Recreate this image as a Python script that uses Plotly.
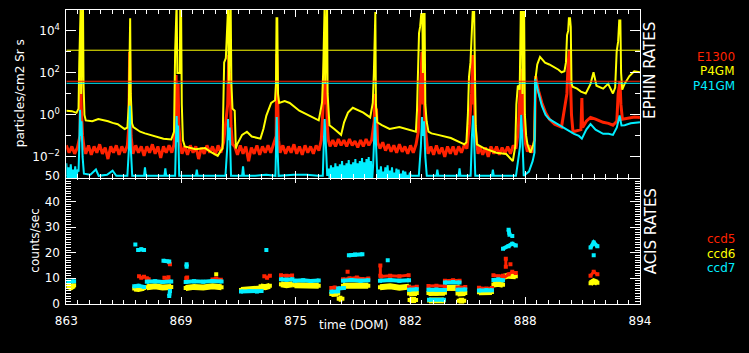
import numpy as np
import plotly.graph_objects as go

# ---------------- data: EPHIN rates (top panel), log10(particles/cm2 Sr s) -------------
p4gm_pts = [
    (863.0, 0.2), (863.3, 0.18), (863.55, 0.1), (863.66, 0.3), (863.70, 2.5), (863.74, 5.3),
    (863.78, 5.3), (863.80, 1.0), (863.86, 5.3), (863.90, 5.3), (863.93, 1.5), (863.98, 0.0),
    (864.05, -0.26), (864.4, -0.3), (864.73, -0.2), (865.0, -0.25), (865.26, -0.3), (865.5, -0.38),
    (865.78, -0.44), (866.15, -0.67), (866.30, -0.6), (866.38, 0.5), (866.41, 4.6), (866.45, 4.6),
    (866.48, 1.0), (866.55, -0.4), (866.62, -0.58), (866.99, -0.8), (867.25, -0.88),
    (867.51, -0.95), (867.9, -1.05), (868.25, -1.13), (868.67, -1.17), (868.82, -0.8), (868.88, 3.0),
    (868.92, 5.3), (868.96, 5.3), (869.0, 2.0), (869.13, 2.0), (869.16, 5.3), (869.2, 5.3),
    (869.24, 0.5), (869.3, -1.2), (869.4, -1.5), (869.98, -1.63), (870.3, -1.6), (870.5, -1.58),
    (870.87, -1.8), (871.18, -1.95), (871.35, -1.7), (871.44, -1.6), (871.47, -0.2), (871.53, 2.5),
    (871.62, 2.7), (871.70, 5.3), (871.75, 5.3), (871.78, 1.5), (871.84, 5.3), (871.88, 5.3),
    (871.92, 1.5), (871.98, 0.3), (872.10, 0.2), (872.16, -1.6), (872.23, -1.4), (872.50, -0.95),
    (872.76, -0.8), (873.02, -1.03), (873.49, -1.13), (873.65, -0.67), (873.81, -0.03),
    (874.07, 0.57), (874.28, 0.7), (874.33, 1.5), (874.36, 4.6), (874.40, 4.6), (874.44, 1.0),
    (874.50, 0.57), (874.80, 0.66), (875.07, 0.57), (875.59, 0.2), (876.12, -0.03), (876.64, -0.26),
    (876.76, 0.3), (876.82, 0.6), (876.88, 2.0), (876.92, 5.3), (876.96, 5.3), (876.99, 1.5),
    (877.05, 5.3), (877.09, 5.3), (877.12, 1.0), (877.18, 0.0), (877.22, -0.49), (877.48, -0.67),
    (877.85, -0.95), (878.01, -0.35), (878.22, 0.11), (878.48, 0.34), (878.74, 0.25), (879.05, 0.11),
    (879.42, -0.12), (879.56, 0.57), (879.62, 2.0), (879.66, 4.9), (879.70, 4.9), (879.73, 0.5),
    (879.80, -0.35), (880.05, -0.49), (880.47, -0.67), (881.0, -0.58), (881.52, -0.72),
    (881.89, -0.8), (881.95, 0.2), (882.00, 2.5), (882.06, 3.9), (882.12, 4.2), (882.18, 4.8),
    (882.24, 4.8), (882.27, 2.0), (882.32, 4.8), (882.36, 4.8), (882.40, 0.5), (882.47, -0.3),
    (882.57, -0.8), (882.73, -0.88), (883.09, -0.95), (883.78, -1.1), (884.51, -1.4),
    (884.62, -1.3), (884.70, 0.0), (884.76, 1.8), (884.84, 2.5), (884.90, 3.5), (884.96, 4.9),
    (885.04, 4.9), (885.08, 2.5), (885.12, -0.5), (885.19, -1.4), (885.56, -1.58), (886.24, -1.8),
    (886.77, -1.86), (887.13, -2.2), (887.26, -1.5), (887.32, 0.5), (887.40, 1.4), (887.50, 1.2),
    (887.56, 4.9), (887.62, 4.9), (887.65, 1.0), (887.69, 4.9), (887.74, 4.9), (887.78, 0.0),
    (887.85, -1.0), (887.92, -1.4), (888.08, -1.8), (888.24, -1.4), (888.30, -1.2), (888.34, 1.62),
    (888.45, 2.4), (888.60, 2.76), (888.87, 2.49), (889.1, 2.4), (889.39, 2.26), (889.6, 2.15),
    (889.76, 2.03), (889.92, 2.08), (890.00, 2.5), (890.06, 3.8), (890.12, 4.0), (890.16, 4.6),
    (890.22, 4.6), (890.26, 4.2), (890.30, 1.5), (890.36, 1.34), (890.6, 1.25), (890.81, 1.11),
    (891.07, 1.02), (891.33, 1.48), (891.49, 2.03), (891.65, 1.39), (892.01, 1.25), (892.28, 1.48),
    (892.54, 1.02), (892.66, 1.3), (892.74, 3.0), (892.82, 3.5), (892.88, 4.5), (892.94, 4.5),
    (892.98, 2.0), (893.04, 1.2), (893.17, 1.48), (893.43, 1.85), (893.69, 2.08), (894.0, 2.03),
]

e1300_pts = [
    (863.0, -1.45), (863.15, -1.8), (863.3, -1.5), (863.45, -1.85), (863.6, -1.55), (863.68, -1.2),
    (863.74, -1.0), (863.78, 2.0), (863.81, 0.3), (863.88, -1.0),
    (863.95, -1.5), (864.05, -1.85), (864.2, -1.45), (864.35, -1.9), (864.5, -1.5), (864.65, -1.8),
    (864.8, -1.4), (864.95, -1.85), (865.1, -1.55), (865.25, -2.1), (865.4, -1.5), (865.55, -1.8),
    (865.7, -1.45), (865.85, -1.9), (866.0, -1.5), (866.15, -1.8), (866.3, -1.45),
    (866.38, -0.5), (866.42, 3.0), (866.45, 1.0), (866.5, -1.0),
    (866.6, -1.85), (866.75, -1.45), (866.9, -1.8), (867.05, -1.5), (867.2, -1.95), (867.35, -1.5),
    (867.5, -1.8), (867.65, -1.4), (867.8, -1.85), (867.95, -1.5), (868.1, -2.05), (868.25, -1.5),
    (868.4, -1.8), (868.55, -1.45), (868.7, -1.8), (868.82, -1.4),
    (868.9, 0.0), (868.93, 1.9), (868.96, 0.3), (869.0, -0.3), (869.04, 1.5), (869.08, -0.5),
    (869.15, -1.3),
    (869.25, -1.85), (869.4, -1.5), (869.55, -1.9), (869.7, -1.45), (869.85, -1.8), (870.0, -1.5),
    (870.15, -2.1), (870.3, -1.55), (870.45, -1.85), (870.6, -1.45), (870.75, -1.8), (870.9, -1.5),
    (871.05, -1.9), (871.2, -1.45), (871.35, -1.8), (871.5, -1.3),
    (871.72, 0.5), (871.78, 2.85), (871.82, 0.8), (871.86, 2.0), (871.9, -0.5), (871.98, -1.4),
    (872.1, -1.5), (872.25, -1.9), (872.4, -1.45), (872.55, -1.85), (872.7, -1.5),
    (872.85, -2.2), (873.0, -1.55), (873.15, -1.85), (873.3, -1.45), (873.45, -1.9), (873.6, -1.5),
    (873.75, -1.8), (873.9, -1.45), (874.05, -1.8), (874.2, -1.4), (874.3, -1.2),
    (874.34, -1.0), (874.37, 2.9), (874.41, 0.5), (874.47, -1.2),
    (874.55, -1.8), (874.7, -1.45), (874.85, -1.85), (875.0, -1.5), (875.15, -1.8), (875.3, -1.4),
    (875.45, -1.85), (875.6, -1.5), (875.75, -1.9), (875.9, -1.45), (876.05, -1.8), (876.2, -1.5),
    (876.35, -1.85), (876.5, -1.45), (876.65, -1.7), (876.78, -1.2),
    (876.9, 0.8), (876.95, 2.5), (876.99, 0.5), (877.06, 1.5), (877.1, -0.5), (877.16, -1.2),
    (877.25, -1.5), (877.4, -1.2), (877.55, -1.5), (877.7, -1.15), (877.85, -1.45), (878.0, -1.2),
    (878.15, -1.5), (878.3, -1.15), (878.45, -1.45), (878.6, -1.25), (878.75, -1.55), (878.9, -1.2),
    (879.05, -1.5), (879.2, -1.15), (879.35, -1.45), (879.5, -1.2),
    (879.64, -0.3), (879.68, 1.0), (879.72, -0.5), (879.76, 0.3), (879.82, -1.3),
    (879.95, -1.6), (880.1, -1.3), (880.25, -1.7), (880.4, -1.4), (880.55, -1.75), (880.7, -1.45),
    (880.85, -1.8), (881.0, -1.4), (881.15, -1.75), (881.3, -1.5), (881.45, -1.85), (881.6, -1.45),
    (881.75, -1.8), (881.9, -1.4), (882.02, -0.8),
    (882.1, 0.5), (882.16, 1.5), (882.22, 3.0), (882.27, 0.5), (882.33, 2.0), (882.38, -0.5),
    (882.46, -1.3),
    (882.55, -1.85), (882.7, -1.5), (882.85, -1.9), (883.0, -1.45), (883.15, -1.85), (883.3, -1.55),
    (883.45, -2.0), (883.6, -1.5), (883.75, -1.85), (883.9, -1.5), (884.05, -1.9), (884.2, -1.5),
    (884.35, -1.8), (884.5, -1.45), (884.65, -1.6), (884.78, -0.5),
    (884.9, 1.0), (884.96, 2.85), (885.0, 0.5), (885.04, 1.8), (885.09, -0.5), (885.16, -1.2),
    (885.25, -1.85), (885.35, -1.5), (885.5, -1.9), (885.65, -1.55), (885.8, -2.0), (885.95, -1.5),
    (886.1, -1.85), (886.25, -1.5), (886.4, -1.9), (886.55, -1.55), (886.7, -1.85), (886.85, -1.5),
    (887.0, -1.85), (887.15, -1.45), (887.3, -1.6), (887.42, -0.8),
    (887.5, 0.5), (887.58, 2.2), (887.62, 0.0), (887.68, 1.5), (887.74, -0.5), (887.82, -1.4),
    (887.92, -1.75), (888.05, -1.45), (888.18, -1.8), (888.3, -1.2),
    (888.36, 1.85), (888.5, 1.2), (888.7, 0.57), (888.9, 0.1), (889.1, -0.2), (889.39, -0.44),
    (889.76, -0.58), (889.9, 0.2), (889.98, 0.7), (890.05, 1.0), (890.12, 2.5), (890.2, 3.1),
    (890.25, 1.5), (890.3, 0.0), (890.38, -0.8), (890.6, -0.75), (890.81, -0.7), (890.86, 0.8),
    (890.90, -0.6), (891.1, -0.3), (891.33, -0.12), (891.6, -0.2), (892.01, -0.35), (892.3, -0.4),
    (892.54, -0.49), (892.75, -0.3), (892.82, 1.0), (892.92, 1.6), (892.97, 0.5), (893.05, -0.2),
    (893.4, -0.15), (893.7, -0.1), (894.0, -0.12),
]

p41gm_pts = [
    (863.0, -2.3), (863.06, -3.2), (863.12, -2.5), (863.18, -3.2), (863.24, -2.35), (863.30, -3.2),
    (863.36, -2.6), (863.42, -3.2), (863.48, -2.45), (863.54, -3.2), (863.60, -2.6), (863.66, -2.7),
    (863.70, -1.5), (863.74, 0.25), (863.78, -1.0), (863.82, -0.3), (863.88, -2.0), (863.95, -2.8),
    (864.3, -2.85), (864.6, -2.6), (864.75, -2.9), (865.2, -2.85), (865.5, -2.65), (865.7, -2.9),
    (866.3, -2.9), (866.39, -1.5), (866.43, 0.43), (866.48, -1.5), (866.56, -2.9), (867.2, -2.9),
    (867.25, -2.5), (867.3, -2.9), (868.3, -2.9), (868.35, -2.55), (868.4, -2.9), (868.88, -2.9),
    (868.93, -1.0), (868.96, -0.05), (869.0, -1.3), (869.04, -0.5), (869.10, -2.9), (870.0, -2.9),
    (870.05, -2.6), (870.1, -2.9), (871.0, -2.9), (871.6, -2.9), (871.7, -1.5), (871.74, -0.2),
    (871.78, -1.2), (871.83, -0.6), (871.9, -2.9), (872.5, -2.9), (872.55, -2.45), (872.6, -2.9),
    (873.2, -2.9), (873.8, -2.85), (874.3, -2.9), (874.33, -1.0), (874.37, -0.1), (874.41, -1.5),
    (874.47, -2.9), (875.3, -2.85), (876.0, -2.85), (876.6, -2.9), (876.86, -2.9), (876.92, -1.2),
    (876.96, -0.2), (877.03, -1.5), (877.1, -2.9),
    (877.18, -2.55), (877.24, -3.2), (877.30, -2.4), (877.36, -3.2), (877.42, -2.5), (877.48, -3.2),
    (877.54, -2.3), (877.60, -3.2), (877.66, -2.45), (877.72, -3.2), (877.78, -2.35), (877.84, -3.2),
    (877.90, -2.2), (877.96, -3.2), (878.02, -2.4), (878.08, -3.2), (878.14, -2.3), (878.20, -3.2),
    (878.26, -2.15), (878.32, -3.2), (878.38, -2.35), (878.44, -3.2), (878.50, -2.25), (878.56, -3.2),
    (878.62, -2.1), (878.68, -3.2), (878.74, -2.3), (878.80, -3.2), (878.86, -2.2), (878.92, -3.2),
    (878.98, -2.05), (879.04, -3.2), (879.10, -2.25), (879.16, -3.2), (879.22, -2.1), (879.28, -3.2),
    (879.34, -2.0), (879.40, -3.2), (879.46, -2.2), (879.52, -3.2), (879.58, -2.4),
    (879.64, -1.0), (879.68, -0.1), (879.74, -1.5), (879.82, -3.2),
    (879.88, -2.6), (879.94, -3.2), (880.00, -2.45), (880.06, -3.2), (880.12, -2.7), (880.18, -3.2),
    (880.24, -2.5), (880.30, -3.2), (880.36, -2.4), (880.42, -3.2), (880.48, -2.65), (880.54, -3.2),
    (880.60, -2.5), (880.66, -3.2), (880.72, -2.75), (880.78, -3.2), (880.84, -2.55), (880.90, -3.2),
    (880.96, -2.6), (881.02, -3.2), (881.08, -2.8), (881.14, -3.2), (881.20, -2.65), (881.26, -3.2),
    (881.32, -2.7), (881.38, -3.2), (881.44, -2.85), (881.50, -3.2), (881.56, -2.75), (881.62, -2.9),
    (882.05, -2.9), (882.16, -1.5), (882.22, -0.1), (882.27, -1.0),
    (882.33, -0.3), (882.40, -2.0), (882.48, -2.9), (883.0, -2.9), (883.05, -2.6), (883.1, -2.9),
    (884.2, -2.9), (884.25, -2.55), (884.3, -2.9), (884.85, -2.9), (884.92, -1.0), (884.98, -0.03),
    (885.04, -1.2), (885.1, -2.9), (886.0, -2.9), (886.05, -2.6), (886.1, -2.9), (887.3, -2.9),
    (887.52, -1.5), (887.58, 0.0), (887.64, -1.0), (887.72, -2.9), (888.0, -2.7), (888.2, -2.2),
    (888.30, -1.8), (888.34, 1.7), (888.5, 1.1), (888.7, 0.43), (888.9, 0.0), (889.1, -0.2),
    (889.39, -0.35), (889.76, -0.55), (890.02, -0.67), (890.2, -0.8), (890.44, -0.9), (890.7, -1.0),
    (890.86, -1.13), (891.1, -0.7), (891.33, -0.44), (891.6, -0.7), (892.01, -0.9), (892.3, -0.9),
    (892.54, -0.95), (892.75, -0.6), (892.9, -0.03), (893.0, -0.5), (893.17, -0.49), (893.5, -0.4),
    (894.0, -0.35),
]

# alert limits (horizontal reference lines)
P4GM_LIMIT = 1200.0
E1300_LIMIT = 40.0
P41GM_LIMIT = 32.0

# ---------------- data: ACIS rates (bottom panel), counts/sec -------------
ccd5_segments = [
    [(866.93, 10.8), (867.05, 10.2), (867.2, 10.6)],
    [(867.35, 10.0), (867.45, 9.6)],
    [(868.3, 10.2), (868.45, 9.8), (868.52, 10.4)],
    [(868.56, 16.2), (868.6, 15.5)],
    [(869.48, 10.0), (869.53, 10.3)],
    [(870.9, 9.5), (871.1, 9.9), (871.35, 9.4)],
    [(873.7, 10.8), (873.85, 10.2), (874.0, 11.0)],
    [(874.6, 11.2), (874.9, 11.0), (875.2, 11.1)],
    [(877.32, 6.2), (877.5, 6.4), (877.69, 6.0)],
    [(877.95, 9.6), (878.3, 10.0), (878.7, 10.3), (879.0, 9.7), (879.32, 9.9)],
    [(878.2, 12.5)],
    [(879.97, 11.0), (879.97, 15.0)],
    [(880.0, 10.7), (880.5, 11.0), (881.0, 10.8), (881.5, 11.2)],
    [(881.52, 6.5), (881.94, 6.7)],
    [(882.57, 6.9), (883.0, 7.0), (883.46, 6.8)],
    [(883.46, 9.0), (883.9, 9.2), (884.25, 9.0)],
    [(884.14, 6.4), (884.56, 6.6)],
    [(885.3, 6.3), (885.7, 6.0), (886.0, 6.2)],
    [(886.08, 11.2), (886.35, 10.8), (886.6, 11.0)],
    [(886.6, 10.0), (886.9, 11.5), (887.1, 12.5), (887.29, 12.0)],
    [(886.75, 17.6), (886.75, 14.5)],
    [(887.0, 15.5)],
    [(891.33, 11.0), (891.5, 12.5), (891.7, 11.5)],
]

ccd6_segments = [
    [(863.05, 7.0), (863.25, 6.5), (863.42, 7.2)],
    [(866.67, 6.0), (866.9, 5.8), (867.2, 6.2)],
    [(867.35, 6.5), (867.8, 6.8), (868.2, 6.4), (868.67, 6.6)],
    [(869.45, 6.2), (869.9, 6.6), (870.4, 6.4), (870.9, 6.8), (871.39, 6.5)],
    [(871.1, 11.5)],
    [(872.44, 5.4), (872.9, 5.6), (873.3, 5.5), (873.55, 6.0)],
    [(873.5, 6.8), (873.75, 6.5), (874.0, 7.0)],
    [(874.6, 7.6), (874.9, 7.3), (875.22, 7.6)],
    [(875.33, 7.2), (875.8, 7.0), (876.2, 7.3), (876.64, 7.0)],
    [(877.32, 3.8), (877.69, 4.0)],
    [(877.72, 2.0), (877.92, 2.0)],
    [(877.95, 7.0), (878.4, 7.3), (878.9, 7.1), (879.32, 7.0)],
    [(879.95, 6.5), (880.5, 6.8), (881.0, 6.3), (881.52, 6.7)],
    [(881.52, 4.0), (881.94, 4.2)],
    [(881.55, 1.5), (881.9, 1.5)],
    [(882.57, 4.2), (883.0, 4.0), (883.46, 4.3)],
    [(882.6, 1.3), (883.4, 1.3)],
    [(883.46, 6.2), (883.9, 6.0), (884.25, 6.3)],
    [(884.14, 4.0), (884.56, 4.2)],
    [(884.2, 1.2), (884.5, 1.2)],
    [(885.3, 4.5), (885.7, 4.8), (886.0, 4.6)],
    [(886.08, 7.5), (886.35, 7.8), (886.6, 7.4)],
    [(886.6, 10.5), (886.9, 11.0), (887.29, 10.8)],
    [(891.33, 8.0), (891.5, 8.8), (891.7, 8.2)],
]

ccd7_segments = [
    [(863.05, 8.6), (863.42, 8.8)],
    [(866.67, 6.8), (866.9, 7.0), (867.2, 6.6)],
    [(866.73, 23.2)],
    [(866.88, 21.0), (867.05, 21.3), (867.2, 21.0)],
    [(867.35, 8.6), (867.8, 8.8), (868.2, 8.5), (868.67, 8.7)],
    [(868.25, 16.8), (868.56, 16.5)],
    [(868.56, 3.0), (868.6, 5.0)],
    [(869.45, 8.5), (869.9, 8.8), (870.4, 8.6), (870.9, 8.9), (871.39, 8.7)],
    [(869.5, 14.5), (869.5, 15.5)],
    [(872.44, 4.8), (872.9, 5.0), (873.3, 4.8), (873.55, 5.0)],
    [(873.81, 21.0)],
    [(874.6, 9.6), (874.9, 9.4), (875.22, 9.6)],
    [(875.33, 9.0), (875.8, 9.2), (876.2, 8.9), (876.64, 9.1)],
    [(877.32, 4.7), (877.69, 4.9)],
    [(877.69, 6.0), (878.0, 6.2)],
    [(877.95, 9.0), (878.4, 9.3), (878.9, 9.0), (879.32, 9.2)],
    [(878.27, 19.0), (878.6, 19.3), (879.0, 19.4)],
    [(879.95, 9.0), (880.5, 9.3), (881.0, 9.0), (881.52, 9.2)],
    [(880.37, 17.0)],
    [(881.52, 5.5), (881.94, 5.7)],
    [(882.57, 5.5), (883.0, 5.6), (883.46, 5.4)],
    [(882.6, 1.6), (883.4, 1.6)],
    [(883.46, 8.3), (883.9, 8.5), (884.25, 8.3)],
    [(884.14, 5.5), (884.56, 5.6)],
    [(885.3, 5.2), (885.7, 5.4), (886.0, 5.3)],
    [(886.08, 9.3), (886.35, 9.5), (886.6, 9.2)],
    [(886.6, 21.5), (886.9, 22.5), (887.1, 23.5), (887.29, 22.8)],
    [(886.9, 29.0), (886.95, 27.0)],
    [(887.1, 26.5)],
    [(891.33, 22.0), (891.5, 24.0), (891.7, 22.5)],
    [(891.5, 19.0)],
]

# axis ticks
x_tickvals = [863.0, 869.2, 875.4, 881.6, 887.8, 894.0]
x_ticktext = ["863", "869", "875", "882", "888", "894"]
ephin_tickvals = [1e-2, 1e0, 1e2, 1e4]
ephin_ticktext = ["10<sup>\u22122</sup>", "10<sup>0</sup>", "10<sup>2</sup>", "10<sup>4</sup>"]
ephin_minorvals = [1e-3, 1e-1, 1e1, 1e3]
acis_tickvals = [0, 10, 20, 30, 40, 50]

RED = "#ff2200"
YEL = "#ffff00"
CYA = "#00eeff"


def unzip_log(pts):
    t = [p[0] for p in pts]
    v = [10 ** p[1] for p in pts]
    return t, v


def join_segments(segs):
    t, v = [], []
    for s in segs:
        for a, b in s:
            t.append(a)
            v.append(b)
        t.append(None)
        v.append(None)
    return t, v


fig = go.Figure()

# ---- top panel traces
for pts, col, w in [(e1300_pts, RED, 3), (p4gm_pts, YEL, 2), (p41gm_pts, CYA, 2)]:
    t, v = unzip_log(pts)
    fig.add_trace(go.Scatter(x=t, y=v, mode="lines", line=dict(color=col, width=w),
                             xaxis="x2", yaxis="y2", hoverinfo="skip"))

for lim, col in [(P4GM_LIMIT, YEL), (E1300_LIMIT, RED), (P41GM_LIMIT, CYA)]:
    fig.add_shape(type="line", xref="x2", yref="y2", x0=863, x1=894, y0=lim, y1=lim,
                  line=dict(color=col, width=1))

# ---- bottom panel traces
for segs, col, w in [(ccd6_segments, YEL, 6), (ccd5_segments, RED, 3), (ccd7_segments, CYA, 4)]:
    t, v = join_segments(segs)
    fig.add_trace(go.Scatter(x=t, y=v, mode="lines+markers", line=dict(color=col, width=w),
                             marker=dict(color=col, size=4, symbol="square"),
                             xaxis="x", yaxis="y", hoverinfo="skip"))

W, H = 749, 353
XD = [57 / W, 648 / W]
common = dict(showline=True, linecolor="white", linewidth=1, mirror="allticks", ticks="inside",
              tickcolor="white", tickwidth=1, showgrid=False, zeroline=False,
              tickfont=dict(family="DejaVu Sans", size=12, color="white"))

fig.update_layout(
    width=W, height=H, margin=dict(l=0, r=0, t=0, b=0),
    paper_bgcolor="black", plot_bgcolor="black", showlegend=False,
    font=dict(family="DejaVu Sans", color="white", size=12),
    xaxis=dict(domain=XD, range=[863, 894], anchor="y", tickmode="array", tickvals=x_tickvals,
               ticktext=x_ticktext, ticklen=7, ticklabelstandoff=6,
               minor=dict(ticks="inside", ticklen=4, tick0=863, dtick=0.62, tickcolor="white"),
               **common),
    xaxis2=dict(domain=XD, range=[863, 894], anchor="y2", matches="x", showticklabels=False,
                tickmode="array", tickvals=x_tickvals, ticklen=7,
                minor=dict(ticks="inside", ticklen=4, tick0=863, dtick=0.62, tickcolor="white"),
                **common),
    yaxis=dict(domain=[1 - 309 / H, 1 - 176 / H], range=[0, 50], anchor="x", tickmode="array",
               tickvals=acis_tickvals, ticklen=10, ticklabelstandoff=3,
               minor=dict(ticks="inside", ticklen=5, dtick=1, tickcolor="white"), **common),
    yaxis2=dict(domain=[1 - 178 / H, 1 - 3 / H], type="log", range=[-3, 5], anchor="x2",
                tickmode="array", tickvals=ephin_tickvals, ticktext=ephin_ticktext, ticklen=10,
                ticklabelstandoff=3,
                minor=dict(ticks="inside", ticklen=5, tickmode="array", tickvals=ephin_minorvals,
                           tickcolor="white"), **common),
)


def ann(text, px, py, color="white", size=12, angle=0, xanchor="center"):
    fig.add_annotation(text=text, x=px / W, y=1 - py / H, xref="paper", yref="paper",
                       showarrow=False, textangle=angle, xanchor=xanchor, yanchor="middle",
                       font=dict(family="DejaVu Sans", size=size, color=color))


ann("particles/cm2 Sr s", 10, 90, angle=-90)
ann("counts/sec", 25, 243, angle=-90)
ann("time (DOM)", 353, 331)
ann("EPHIN RATES", 659, 66, size=15, angle=-90)
ann("ACIS RATES", 659, 234, size=15, angle=-90)
ann("E1300", 748, 52, color=RED, size=12, xanchor="right")
ann("P4GM", 748, 67, color=YEL, size=12, xanchor="right")
ann("P41GM", 748, 82, color=CYA, size=12, xanchor="right")
ann("ccd5", 748, 242, color=RED, size=12, xanchor="right")
ann("ccd6", 748, 257, color=YEL, size=12, xanchor="right")
ann("ccd7", 748, 272, color=CYA, size=12, xanchor="right")

fig.write_html("out.html")
